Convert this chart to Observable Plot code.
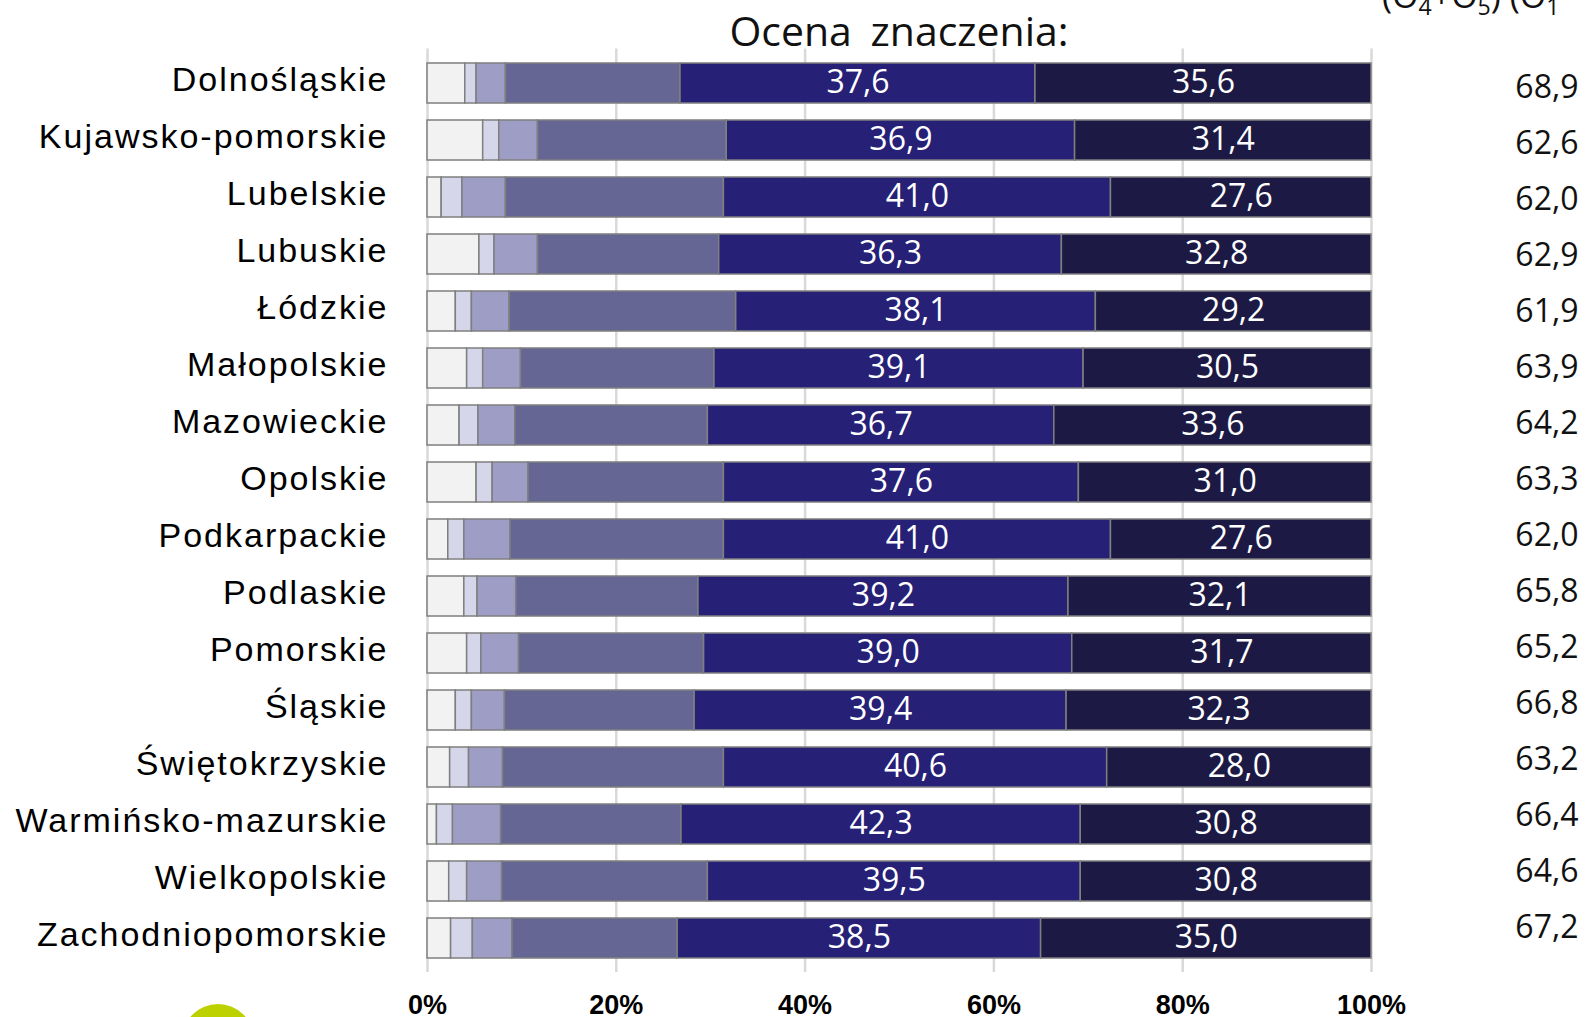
<!DOCTYPE html>
<html>
<head>
<meta charset="utf-8">
<script src="https://cdn.jsdelivr.net/npm/d3@7"></script>
<script src="https://cdn.jsdelivr.net/npm/@observablehq/plot@0.6"></script>
<style>
  html, body { margin: 0; padding: 0; background: #fff; }
  body { width: 1587px; height: 1017px; overflow: hidden; position: relative; font-family: "Open Sans", sans-serif; }
  #chart, #right { position: absolute; left: 0; top: 0; }
  #title { position: absolute; left: 599px; width: 600px; top: 10px; text-align: center; font-size: 41px; line-height: 1; color: #111; word-spacing: 8px; }
  #hdr { position: absolute; left: 1382px; top: -22px; font-size: 34px; line-height: 1; color: #111; white-space: nowrap; }
  #hdr sub { font-size: 0.68em; vertical-align: -0.3em; line-height: 0; }
  #logo { position: absolute; left: 182px; top: 1004px; width: 72px; height: 72px; border-radius: 50%; background: #bdd100; }
</style>
</head>
<body>
<div id="title">Ocena  znaczenia:</div>
<div id="hdr">(O<sub>4</sub>+O<sub>5</sub>) (O<sub>1</sub></div>
<div id="logo"></div>
<div id="chart"></div>
<div id="right"></div>
<script>
// ---- data ----
const regions = ["Dolnośląskie","Kujawsko-pomorskie","Lubelskie","Lubuskie","Łódzkie","Małopolskie","Mazowieckie","Opolskie","Podkarpackie","Podlaskie","Pomorskie","Śląskie","Świętokrzyskie","Warmińsko-mazurskie","Wielkopolskie","Zachodniopomorskie"];
const categories = ["brak odpowiedzi","O1","O2","O3","O4","O5"];
const brak = [4.0,5.9,1.5,5.5,3.0,4.2,3.4,5.2,2.2,3.9,4.2,3.0,2.4,1.0,2.3,2.5];
const o1   = [1.2,1.7,2.2,1.6,1.7,1.7,2.0,1.7,1.7,1.4,1.5,1.7,2.0,1.7,1.9,2.3];
const o2   = [3.1,4.1,4.6,4.6,4.0,4.0,3.9,3.8,4.9,4.1,4.0,3.5,3.6,5.1,3.7,4.2];
const o3   = [18.5,20.0,23.1,19.2,24.0,20.5,20.4,20.7,22.6,19.3,19.6,20.1,23.4,19.1,21.8,17.5];
const o4   = [37.6,36.9,41.0,36.3,38.1,39.1,36.7,37.6,41.0,39.2,39.0,39.4,40.6,42.3,39.5,38.5];
const o5   = [35.6,31.4,27.6,32.8,29.2,30.5,33.6,31.0,27.6,32.1,31.7,32.3,28.0,30.8,30.8,35.0];
const rightValues = [68.9,62.6,62.0,62.9,61.9,63.9,64.2,63.3,62.0,65.8,65.2,66.8,63.2,66.4,64.6,67.2];
const labeledCategories = ["O4","O5"];
const xTicks = [0,20,40,60,80,100];
const colors = ["#f2f2f2","#d5d6ea","#9e9dc6","#666695","#262077","#1c1a45"];

// ---- table ----
const series = [brak,o1,o2,o3,o4,o5];
const table = [];
regions.forEach((r, i) => {
  categories.forEach((c, k) => table.push({region: r, cat: c, value: series[k][i]}));
});
const fmt = v => v.toFixed(1).replace(".", ",");

const chart = Plot.plot({
  width: 1587,
  height: 1017,
  marginLeft: 427,
  marginRight: 216,
  marginTop: 42.5,
  marginBottom: 38,
  style: {background: "transparent"},
  x: {domain: [0, 100]},
  y: {domain: regions, padding: 0.3},
  color: {domain: categories, range: colors},
  marks: [
    Plot.ruleX(xTicks, {stroke: "#d9d9d9", strokeWidth: 2.5, insetTop: 6, insetBottom: 7}),
    Plot.barX(table, Plot.stackX({x: "value", y: "region", fill: "cat", z: "cat", stroke: "#7f7f7f", strokeWidth: 1.5})),
    Plot.text(table, Plot.stackX({x: "value", y: "region", z: "cat",
      text: d => labeledCategories.includes(d.cat) ? fmt(d.value) : "",
      fill: "#ffffff", fontSize: 32, fontFamily: "Open Sans", dy: -1})),
    Plot.axisY({tickSize: 0, tickPadding: 39, dy: -3, fontSize: 34, fontFamily: "'Liberation Sans', Arial, sans-serif", color: "#000", label: null}),
    Plot.axisX({ticks: xTicks, tickFormat: d => d + "%", tickSize: 0, tickPadding: 15, fontSize: 27, fontWeight: "bold", fontFamily: "'Liberation Sans', Arial, sans-serif", color: "#000", label: null})
  ]
});
document.getElementById("chart").appendChild(chart);
d3.select(chart).selectAll('g[aria-label="y-axis tick label"] text').style("letter-spacing", "2px");

const right = Plot.plot({
  width: 1587,
  height: 1017,
  marginTop: 86,
  marginBottom: 88,
  marginLeft: 0,
  marginRight: 9,
  style: {background: "transparent"},
  x: {axis: null},
  y: {type: "point", domain: regions, padding: 0, axis: null},
  marks: [
    Plot.text(regions, {y: d => d, text: (d, i) => fmt(rightValues[i]), frameAnchor: "right", textAnchor: "end",
      fontSize: 32, fontFamily: "Open Sans", fill: "#111", dy: -1})
  ]
});
document.getElementById("right").appendChild(right);
</script>
</body>
</html>
